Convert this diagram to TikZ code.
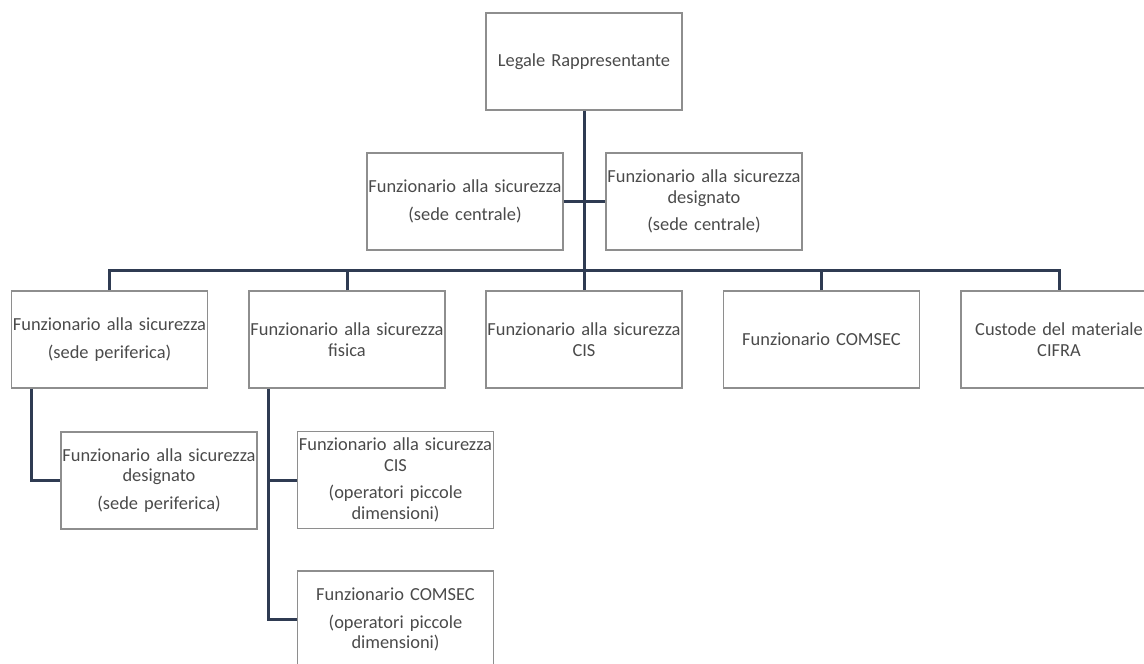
\documentclass[tikz,border=0pt]{standalone}
\usepackage{fontspec}
\setmainfont{Carlito}
\definecolor{boxgray}{HTML}{8E8E8E}
\definecolor{navy}{HTML}{2F3B52}
\definecolor{txt}{HTML}{4A4A4A}
\begin{document}
\begin{tikzpicture}[x=1pt,y=-1pt,
  box/.style={draw=boxgray, line width=1.2pt, minimum width=196pt, minimum height=97pt,
    inner sep=0pt, text width=196pt, align=center, text=txt,
    font=\fontsize{18.4}{20.5}\selectfont},
  link/.style={draw=navy, line width=3pt}]
\useasboundingbox (0,0) rectangle (1144,664);

% head
\node[box] (top) at (584,61.5) {Legale Rappresentante};

% staff positions beside the main line
\node[box] (ml) at (465,201.5) {Funzionario alla sicurezza\\[7pt](sede centrale)};
\node[box] (mr) at (704,201.5) {Funzionario alla sicurezza\\designato\\[7pt](sede centrale)};

% second level
\node[box] (r1) at (109.5,339.5) {Funzionario alla sicurezza\\[7pt](sede periferica)};
\node[box] (r2) at (347,339.5) {Funzionario alla sicurezza\\fisica};
\node[box] (r3) at (584,339.5) {Funzionario alla sicurezza\\CIS};
\node[box] (r4) at (821.5,339.5) {Funzionario COMSEC};
\node[box] (r5) at (1059,339.5) {Custode del materiale\\CIFRA};

% third level
\node[box] (c1) at (159,480.5) {Funzionario alla sicurezza\\designato\\[7pt](sede periferica)};
\node[box] (c2) at (395.5,480) {Funzionario alla sicurezza\\CIS\\[7pt](operatori piccole\\dimensioni)};
\node[box] (c3) at (395.5,619.5) {Funzionario COMSEC\\[7pt](operatori piccole\\dimensioni)};

% connectors
\draw[link] (top.south) -- (r3.north);
\draw[link] (ml.east) -- (mr.west);
\draw[link] (r1.north) -- ++(0,-20) -| (r5.north);
\draw[link] (r2.north) -- ++(0,-20);
\draw[link] (r4.north) -- ++(0,-20);

\coordinate (v1) at ([xshift=-78.5pt]r1.south);
\draw[link] (v1) |- (c1.west);

\coordinate (v2) at ([xshift=-78.5pt]r2.south);
\draw[link] (v2) |- (c3.west);
\draw[link] (c2.west) -- (c2.west -| v2);
\end{tikzpicture}
\end{document}
